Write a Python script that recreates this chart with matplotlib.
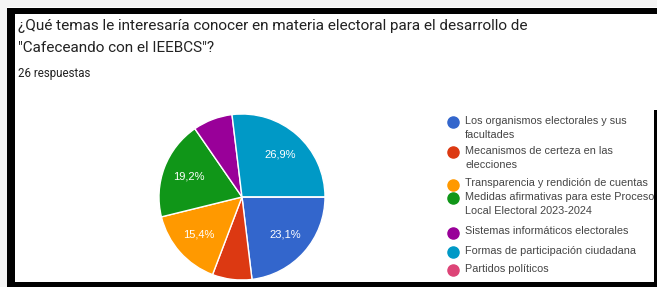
import matplotlib.pyplot as plt
from matplotlib.patches import Rectangle

# datos de la encuesta (26 respuestas)
categorias = ["Los organismos electorales y sus\nfacultades",
              "Mecanismos de certeza en las\nelecciones",
              "Transparencia y rendición de cuentas",
              "Medidas afirmativas para este Proceso\nLocal Electoral 2023-2024",
              "Sistemas informáticos electorales",
              "Formas de participación ciudadana",
              "Partidos políticos"]
respuestas = [6, 2, 4, 5, 2, 7, 0]
colores = ['#3366cc', '#dc3912', '#ff9900', '#109618', '#990099', '#0099c6', '#dd4477']

titulo = ["¿Qué temas le interesaría conocer en materia electoral para el desarrollo de",
          "\"Cafeceando con el IEEBCS\"?"]
subtitulo = "26 respuestas"

W, H = 657, 287
fig = plt.figure(figsize=(W / 100, H / 100), dpi=100)
fig.patch.set_facecolor('white')


def px(x, y):
    # pixel (arriba-izquierda) -> fraccion de figura
    return x / W, 1 - y / H


def rect(x0, y0, x1, y1, color):
    fx0, fy1 = px(x0, y1)
    fig.add_artist(Rectangle((fx0, fy1), (x1 - x0) / W, (y1 - y0) / H,
                             transform=fig.transFigure, facecolor=color,
                             edgecolor='none', zorder=5))


# marco negro de la captura
rect(0, 0, W, 7, '#f4f4f4')
rect(0, 0, 7, H, '#f4f4f4')
rect(7, 8, W, 14, 'black')
rect(7, 8, 15, H, 'black')
rect(7, 282, W, H, 'black')
rect(654, 110, W, H, 'black')

# titulo
for linea, ly in zip(titulo, [26, 48]):
    x, y = px(18, ly)
    fig.text(x, y, linea, fontsize=11, family='Roboto', color='#222222', va='center')
x, y = px(18, 74)
fig.text(x, y, subtitulo, fontsize=8.3, family='Roboto', color='#222222', va='center')

# pastel
cx, cy, r = 242, 197, 83
ax = fig.add_axes([(cx - r) / W, 1 - (cy + r) / H, 2 * r / W, 2 * r / H])


def etiqueta(p):
    if p < 10:
        return ''
    return ('%.1f%%' % p).replace('.', ',')


wedges, textos, autot = ax.pie(respuestas, colors=colores, startangle=0, counterclock=False,
                               autopct=etiqueta, pctdistance=0.69,
                               wedgeprops=dict(edgecolor='white', linewidth=1))
for t in autot:
    t.set_color('white')
    t.set_fontsize(8)
    t.set_family('Liberation Sans')
ax.set_xlim(-1, 1)
ax.set_ylim(-1, 1)
ax.set_aspect('equal')
ax.axis('off')

# leyenda
leyenda_y = [122, 152, 185, 198, 233, 252, 270]
for lab, col, ly in zip(categorias, colores, leyenda_y):
    mx, my = px(453, ly)
    fig.add_artist(plt.Line2D([mx], [my], marker='o', markersize=8, color=col,
                              linestyle='none', transform=fig.transFigure))
    tx, ty = px(465, ly - 6.5)
    fig.text(tx, ty, lab, fontsize=7.8, family='Liberation Sans', color='#444444',
             va='top', linespacing=1.5)

fig.savefig('out.png', dpi=100)
